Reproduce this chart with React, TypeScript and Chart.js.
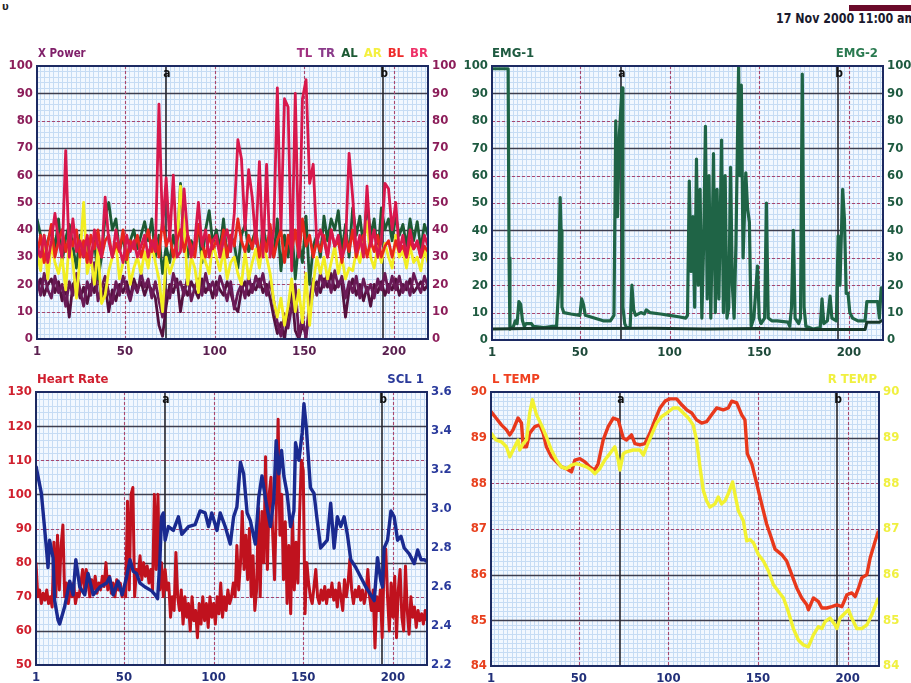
import React, { useEffect, useRef } from "react";
import { Chart, registerables } from "chart.js";
Chart.register(...registerables);

const FONT = '"Liberation Sans Narrow", "DejaVu Sans Condensed", "Arial Narrow", sans-serif';

// ---------- shared ----------
const X_TICKS = [1, 50, 100, 150, 200];
const MARK_X = [73, 194];
const MARK_LABELS = ["a", "b"];

// ---------- X Power (sampled every 2 units: x = 1,3,5,...,219) ----------
const XP_X = Array.from({ length: 110 }, (_, i) => 1 + 2 * i);
const XP_TL = [
  18, 22, 16, 20, 22, 17, 21, 14, 19, 8,
  20, 22, 15, 19, 13, 20, 17, 25, 15, 20,
  10, 18, 14, 20, 17, 21, 15, 22, 18, 21,
  16, 20, 18, 15, 5, 1, 12, 20, 17, 22,
  10, 19, 16, 21, 18, 15, 22, 17, 20, 15,
  21, 18, 16, 21, 17, 12, 10, 18, 21, 16,
  20, 18, 22, 17, 20, 15, 8, 2, 6, 0,
  10, 18, 3, 0, 5, 2, 10, 18, 21, 17,
  22, 19, 24, 18, 21, 20, 8, 18, 22, 16,
  20, 14, 19, 12, 20, 17, 21, 16, 20, 18,
  22, 16, 20, 18, 22, 17, 19, 21, 18, 20,
];
const XP_TR = [
  22, 16, 24, 18, 15, 23, 17, 20, 12, 21,
  16, 24, 18, 12, 21, 16, 28, 14, 19, 23,
  17, 13, 21, 16, 23, 18, 14, 20, 17, 24,
  19, 22, 15, 21, 14, 8, 18, 15, 24, 19,
  21, 16, 23, 14, 19, 22, 16, 24, 18, 21,
  16, 23, 19, 14, 21, 11, 17, 20, 15, 23,
  17, 23, 19, 24, 16, 21, 14, 6, 1, 9,
  4, 12, 20, 1, 8, 0, 14, 22, 16, 24,
  19, 24, 17, 25, 19, 23, 15, 21, 17, 23,
  15, 22, 17, 20, 15, 22, 18, 24, 17, 23,
  18, 23, 17, 21, 16, 24, 20, 17, 23, 19,
];
const XP_AL = [
  44, 38, 30, 36, 40, 33, 44, 28, 37, 42,
  34, 26, 38, 30, 35, 28, 36, 22, 30, 45,
  50, 40, 44, 32, 38, 28, 36, 40, 33, 38,
  43, 36, 44, 30, 38, 24, 34, 28, 38, 32,
  57, 40, 30, 36, 33, 42, 28, 40, 47, 35,
  40, 33, 44, 30, 38, 35, 26, 38, 42, 32,
  36, 40, 28, 42, 34, 38, 30, 44, 25, 38,
  30, 42, 22, 36, 28, 45, 20, 34, 38, 30,
  45, 36, 44, 40, 47, 32, 42, 30, 48, 38,
  45, 34, 50, 38, 44, 30, 48, 40, 44, 36,
  45, 38, 42, 34, 44, 36, 43, 33, 42, 38,
];
const XP_AR = [
  32, 25, 38, 22, 35, 28, 24, 30, 18, 36,
  28, 15, 30, 50, 24, 30, 20, 33, 13, 16,
  25, 30, 35, 22, 28, 32, 20, 26, 30, 24,
  32, 26, 35, 28, 22, 10, 30, 24, 28, 33,
  56, 42, 20, 30, 26, 17, 32, 28, 24, 35,
  30, 25, 33, 22, 28, 30, 24, 20, 32, 22,
  28, 33, 26, 35, 30, 24, 14, 8, 15, 5,
  12, 22, 10, 18, 6, 24, 5, 20, 30, 24,
  30, 22, 28, 34, 24, 30, 22, 26, 25, 32,
  28, 35, 43, 30, 26, 34, 28, 35, 30, 26,
  38, 30, 32, 26, 34, 28, 30, 25, 33, 28,
];
const XP_BL = [
  30, 38, 28, 35, 42, 30, 36, 40, 32, 38,
  34, 40, 30, 36, 28, 38, 33, 40, 30, 36,
  38, 30, 35, 32, 40, 29, 36, 33, 38, 30,
  35, 40, 32, 38, 30, 44, 34, 38, 30, 36,
  40, 32, 38, 34, 30, 42, 35, 30, 38, 33,
  36, 32, 40, 30, 38, 34, 44, 36, 32, 38,
  33, 40, 30, 38, 32, 42, 30, 36, 40, 28,
  38, 32, 40, 30, 44, 34, 38, 30, 36, 32,
  38, 30, 40, 34, 36, 28, 38, 32, 40, 30,
  35, 38, 30, 36, 32, 38, 30, 34, 36, 30,
  36, 32, 34, 30, 36, 33, 35, 30, 34, 32,
];
const XP_BR = [
  34, 30, 38, 28, 36, 46, 36, 30, 69, 30,
  44, 32, 36, 30, 38, 28, 40, 34, 30, 52,
  36, 30, 40, 33, 28, 38, 32, 36, 30, 34,
  38, 30, 36, 32, 86, 40, 59, 36, 60, 30,
  32, 55, 38, 30, 36, 50, 34, 40, 30, 36,
  38, 30, 36, 40, 32, 46, 73, 66, 40, 62,
  52, 35, 65, 30, 64, 30, 40, 92, 40, 88,
  85, 25, 90, 30, 88, 95, 57, 64, 35, 40,
  36, 30, 40, 34, 38, 30, 34, 68, 52, 32,
  38, 30, 56, 34, 40, 30, 36, 57, 55, 40,
  50, 32, 38, 30, 40, 33, 36, 30, 38, 34,
];

// ---------- EMG (polyline vertices) ----------
const EMG1_X = [1, 10, 10.5, 11, 13, 14, 15, 16, 17, 18, 19, 20, 23, 24, 30, 35, 37, 38, 39, 39.5, 40, 41, 45, 50, 51, 52, 53, 58, 63, 67, 69, 70, 71, 72, 73.5, 74, 75, 76, 78, 79, 80, 81, 84, 86, 87, 89, 95, 100, 105, 109, 110, 111, 112, 113, 114, 115, 116, 117, 118, 119, 120, 121, 122, 123, 124.5, 125.5, 126.5, 127.5, 129, 130, 131, 132, 133, 134, 135, 136, 137, 138.5, 139.2, 140, 141, 142.5, 143.5, 144.5, 145.5, 147, 149, 150, 151, 153, 154, 155, 157, 160, 166, 167, 168, 169, 170, 172, 173, 174, 175, 176, 180, 184, 185, 186, 188, 189.5, 190.5, 193, 194, 195, 196.5, 197.5, 198.5, 199.5, 200.5, 202, 205, 209, 210, 216, 217, 218, 219];
const EMG1_Y = [99, 99, 30, 4, 5, 7, 6, 14, 13, 7, 5, 6, 6, 5, 4.5, 5, 5, 17, 52, 40, 12, 10, 9.5, 9, 15, 13, 9, 8, 7, 7, 9, 80, 45, 75, 92, 12, 6, 4.5, 4.5, 20, 11, 9, 10, 9.5, 11, 10, 9.5, 9, 8.5, 8, 9, 58, 25, 45, 12, 66, 20, 55, 8, 35, 78, 15, 60, 8, 68, 10, 55, 15, 73, 10, 60, 8, 12, 63, 20, 8, 35, 100, 60, 93, 30, 61, 48, 43, 5, 8, 27, 8, 6, 8, 50, 8, 7, 7, 6.5, 5, 12, 40, 8, 6, 8, 97, 12, 5, 4, 4.5, 15, 6, 7, 16, 8, 7, 38, 20, 55, 44, 17, 17, 10, 8, 7, 7, 14, 14, 8, 19, 19];
const EMG2_X = [1, 30, 60, 90, 120, 150, 180, 209, 210, 217, 218, 219];
const EMG2_Y = [4, 4.3, 4.2, 4.3, 4, 4.2, 3.8, 3.8, 6.5, 6.5, 7, 7];

// ---------- Heart rate (x = 1..219) ----------
const HR_X = Array.from({ length: 219 }, (_, i) => i + 1);
const HR_Y = [
  80, 70, 72, 68, 71, 69, 72, 68, 70, 67, 86, 70, 88, 72, 85, 91, 70, 74, 68, 72,
  70, 74, 68, 71, 70, 74, 78, 72, 78, 74, 70, 75, 72, 76, 71, 74, 72, 76, 73, 80,
  72, 76, 71, 74, 70, 75, 72, 74, 70, 72, 70, 98, 72, 100, 102, 70, 78, 76, 82, 75,
  80, 76, 79, 74, 78, 72, 100, 78, 100, 72, 80, 70, 78, 72, 74, 64, 70, 66, 83, 70,
  66, 72, 62, 70, 64, 68, 60, 70, 63, 66, 58, 68, 62, 70, 63, 68, 61, 70, 64, 68,
  62, 70, 65, 74, 64, 70, 66, 72, 68, 70, 74, 70, 85, 72, 80, 95, 78, 88, 75, 90,
  70, 82, 66, 72, 96, 70, 95, 80, 111, 78, 100, 105, 88, 75, 96, 122, 88, 100, 75, 92,
  68, 85, 65, 93, 72, 86, 74, 95, 110, 107, 65, 80, 74, 70, 68, 73, 78, 70, 68, 72,
  69, 73, 68, 72, 70, 74, 69, 72, 67, 74, 70, 66, 75, 70, 74, 81, 72, 68, 72, 70,
  73, 69, 72, 68, 71, 78, 70, 66, 72, 55, 70, 66, 72, 58, 78, 84, 70, 60, 74, 64,
  76, 58, 72, 78, 64, 60, 79, 66, 59, 70, 64, 67, 61, 66, 63, 65, 62, 66, 63,
];

// ---------- SCL 1 (polyline vertices) ----------
const SCL_X = [1, 4, 6.8, 7.7, 8.6, 10.5, 11.4, 13.3, 14.2, 17, 19.8, 21.7, 23.2, 25.4, 28.2, 30, 32.9, 36.6, 40.4, 42, 44, 46.8, 49, 51.5, 53.4, 55.2, 57, 59, 61.8, 65.5, 67.4, 68.8, 70.1, 71, 72, 73, 74.8, 77.6, 80.4, 82.3, 86, 89.7, 92.5, 95.3, 97.2, 99, 101.9, 103.7, 106.5, 109.3, 111.2, 113, 115, 116.8, 118.7, 120.5, 123.3, 125.2, 127, 129, 131.7, 133.6, 134.9, 136.4, 137.9, 139.2, 141, 142.9, 144.8, 145.7, 147.6, 149.4, 150.4, 151.7, 154, 156, 157.8, 159.7, 161.5, 163.4, 165.3, 167.2, 169, 170.9, 172.8, 174.6, 176.5, 179.3, 182.1, 184.9, 187.7, 189.6, 191.4, 193.3, 194.2, 195.1, 197, 198.9, 200.7, 202.6, 204.5, 206.3, 209.1, 211.9, 213.8, 215.7, 217.5, 219];
const SCL_Y = [3.22, 3.08, 2.8, 2.7, 2.84, 2.75, 2.53, 2.43, 2.41, 2.5, 2.63, 2.56, 2.74, 2.6, 2.56, 2.67, 2.56, 2.6, 2.62, 2.65, 2.56, 2.63, 2.56, 2.65, 2.74, 2.68, 2.67, 2.62, 2.6, 2.58, 2.56, 2.54, 2.74, 2.96, 2.98, 2.84, 2.91, 2.89, 2.96, 2.87, 2.91, 2.92, 2.99, 2.98, 2.91, 2.98, 2.89, 2.98, 2.91, 2.82, 2.96, 3.01, 3.24, 3.18, 2.98, 2.94, 2.82, 3.06, 3.17, 3.05, 2.91, 3.05, 3.35, 3.18, 3.3, 3.17, 3.08, 2.91, 2.99, 3.34, 3.25, 3.39, 3.54, 3.42, 3.11, 3.08, 2.94, 2.8, 2.82, 2.84, 3.03, 2.8, 2.96, 2.91, 2.96, 2.87, 2.74, 2.7, 2.65, 2.6, 2.56, 2.53, 2.75, 2.63, 2.6, 2.8, 2.84, 2.99, 2.96, 2.84, 2.86, 2.8, 2.77, 2.72, 2.79, 2.74, 2.74, 2.73];

// ---------- Temperatures (polyline vertices) ----------
const LT_X = [1, 3.8, 6.8, 9.6, 11.5, 13.3, 16.1, 18, 19, 20.8, 22.6, 25.4, 28.2, 30.1, 31.9, 34.7, 37.5, 40.3, 43.1, 45.9, 47.8, 50.6, 53.4, 56.1, 58.9, 60.8, 63.6, 66.4, 69.2, 72, 74.8, 76.6, 79.4, 81.3, 84.1, 86.9, 89.7, 92.5, 95.3, 98.1, 100.8, 104.6, 107.4, 110.2, 113, 115.7, 118.5, 121.3, 124.1, 126.9, 130.6, 133.4, 135.3, 138.1, 140.9, 142.7, 144, 146.5, 149.3, 152, 154.8, 156.7, 159.5, 163.2, 166, 168.8, 171.6, 174.4, 177.2, 178.1, 180.9, 183.7, 185.6, 188.4, 191.2, 194, 196.8, 199.6, 202.3, 204.2, 206.1, 207.9, 210.7, 212.6, 215.4, 217.2];
const LT_Y = [89.57, 89.43, 89.28, 89.17, 89.06, 89.17, 89.43, 89.32, 88.8, 88.8, 89.1, 89.24, 89.28, 89.1, 88.8, 88.58, 88.47, 88.36, 88.32, 88.25, 88.51, 88.54, 88.47, 88.36, 88.29, 88.43, 88.95, 89.24, 89.43, 89.39, 88.99, 88.95, 89.06, 88.87, 88.84, 88.87, 89.1, 89.39, 89.65, 89.8, 89.85, 89.85, 89.72, 89.61, 89.54, 89.39, 89.32, 89.35, 89.5, 89.65, 89.61, 89.65, 89.8, 89.76, 89.5, 89.39, 88.65, 88.43, 87.99, 87.55, 87.11, 86.89, 86.56, 86.44, 86.3, 86.0, 85.71, 85.49, 85.34, 85.23, 85.49, 85.41, 85.27, 85.27, 85.3, 85.34, 85.3, 85.56, 85.6, 85.52, 85.71, 85.93, 86.0, 86.37, 86.74, 86.96];
const RT_X = [1, 3.8, 6.8, 9.6, 11.5, 13.3, 16.1, 17, 19, 20.8, 22.6, 24.1, 26.4, 29.1, 31.9, 34.7, 37.5, 40.3, 43.1, 45.9, 48.7, 51.5, 54.3, 57.1, 58.9, 61.7, 64.5, 67.3, 70.1, 72, 72.9, 74.8, 76.6, 80.3, 84.1, 86, 87.8, 90.6, 93.4, 96.2, 99, 102.7, 105.5, 108.3, 111.1, 113.8, 115.7, 117.6, 119.5, 121.3, 123.2, 126, 127.8, 129.7, 131.6, 133.4, 135.8, 137.1, 139, 141.8, 143.7, 145.5, 147.4, 150.2, 153, 155.8, 158.6, 161.4, 164.2, 166.9, 169.7, 172.5, 175.3, 178.1, 180.9, 183.7, 185.6, 187.4, 190.2, 193, 194, 195.8, 198.6, 200.5, 202.3, 205.1, 207.9, 210.7, 213.5, 216.3, 217.2];
const RT_Y = [89.1, 88.95, 88.91, 88.8, 88.58, 88.73, 88.95, 88.73, 88.87, 88.95, 89.54, 89.83, 89.5, 89.28, 89.02, 88.73, 88.51, 88.36, 88.32, 88.4, 88.43, 88.4, 88.36, 88.29, 88.21, 88.32, 88.51, 88.65, 88.8, 88.51, 88.29, 88.65, 88.69, 88.73, 88.73, 88.62, 88.8, 89.06, 89.32, 89.46, 89.54, 89.65, 89.65, 89.54, 89.43, 89.28, 88.95, 88.36, 87.84, 87.62, 87.48, 87.55, 87.7, 87.55, 87.62, 87.77, 88.03, 87.77, 87.4, 87.18, 86.74, 86.77, 86.7, 86.44, 86.3, 86.08, 85.78, 85.63, 85.49, 85.19, 84.82, 84.57, 84.46, 84.42, 84.68, 84.86, 84.82, 84.97, 85.05, 84.9, 84.82, 85.05, 85.16, 85.23, 85.05, 84.82, 84.82, 84.9, 85.12, 85.41, 85.49];

// ---------- axis ticks ----------
const XP_TICKS = [0, 10, 20, 30, 40, 50, 60, 70, 80, 90, 100];
const HR_TICKS = [50, 60, 70, 80, 90, 100, 110, 120, 130];
const SCL_TICKS = [2.2, 2.4, 2.6, 2.8, 3.0, 3.2, 3.4, 3.6];
const TEMP_TICKS = [84, 85, 86, 87, 88, 89, 90];

const pts = (xs: number[], ys: number[]) => xs.map((x, i) => ({ x, y: ys[i] }));

const LEFT_W = 37;
const RIGHT_W = 32;
const TOP_PAD = 20;
const X_H = 22;

function decor(p: any) {
  return {
    id: "decor",
    beforeDatasetsDraw(chart: any) {
      const { ctx, chartArea: a, scales } = chart;
      const xs = scales.x;
      const yl = scales.y;
      ctx.save();
      ctx.fillStyle = "#f2f8ff";
      ctx.fillRect(a.left, a.top, a.right - a.left, a.bottom - a.top);
      ctx.strokeStyle = "#c6dcf4";
      ctx.lineWidth = 1;
      ctx.beginPath();
      for (let v = 2.5; v < p.xMax; v += 2.5) {
        const x = Math.round(xs.getPixelForValue(v)) + 0.5;
        ctx.moveTo(x, a.top);
        ctx.lineTo(x, a.bottom);
      }
      for (let v = p.yMin + p.yMinor; v < p.yMax - 1e-9; v += p.yMinor) {
        const y = Math.round(yl.getPixelForValue(v)) + 0.5;
        ctx.moveTo(a.left, y);
        ctx.lineTo(a.right, y);
      }
      ctx.stroke();
      for (const h of p.hLines) {
        const y = Math.round(yl.getPixelForValue(h[0])) + 0.5;
        const dark = h[1] === 1;
        ctx.strokeStyle = dark ? "#3e3e4e" : "#a8466e";
        ctx.setLineDash(dark ? [] : [3, 2]);
        ctx.lineWidth = dark ? 1.3 : 1.1;
        ctx.beginPath();
        ctx.moveTo(a.left, y);
        ctx.lineTo(a.right, y);
        ctx.stroke();
      }
      ctx.setLineDash([3, 2]);
      ctx.strokeStyle = "#a8466e";
      ctx.lineWidth = 1.1;
      for (const v of [50, 100, 150, 200]) {
        const x = Math.round(xs.getPixelForValue(v)) + 0.5;
        ctx.beginPath();
        ctx.moveTo(x, a.top);
        ctx.lineTo(x, a.bottom);
        ctx.stroke();
      }
      ctx.setLineDash([]);
      ctx.strokeStyle = "#26262e";
      ctx.lineWidth = 1.6;
      MARK_X.forEach((m, i) => {
        const x = Math.round(xs.getPixelForValue(m));
        ctx.beginPath();
        ctx.moveTo(x, a.top);
        ctx.lineTo(x, a.bottom);
        ctx.stroke();
        ctx.fillStyle = "#111";
        ctx.font = `bold 12px ${FONT}`;
        ctx.textAlign = "center";
        ctx.textBaseline = "middle";
        ctx.fillText(MARK_LABELS[i], x + 1, a.top + 8);
      });
      ctx.restore();
    },
    afterDatasetsDraw(chart: any) {
      const { ctx, chartArea: a } = chart;
      ctx.save();
      ctx.strokeStyle = "#1c2a62";
      ctx.lineWidth = 2;
      ctx.strokeRect(a.left, a.top, a.right - a.left, a.bottom - a.top);
      ctx.restore();
    },
  };
}

function buildConfig(p: any) {
  const tickFont = { family: FONT, size: 13, weight: "bold" as const };
  const axisCommon = {
    grid: { display: false, drawTicks: false },
    border: { display: false },
  };
  return {
    type: "line",
    data: {
      datasets: p.datasets.map((d: any) => ({
        label: d.label,
        data: d.data,
        yAxisID: d.axis,
        borderColor: d.color,
        backgroundColor: d.color,
        borderWidth: d.width,
        pointRadius: 0,
        tension: 0,
        fill: false,
        borderJoinStyle: "round",
      })),
    },
    options: {
      responsive: false,
      animation: false,
      events: [],
      layout: { padding: { top: TOP_PAD, left: 0, right: 0, bottom: 0 } },
      plugins: { legend: { display: false }, tooltip: { enabled: false } },
      scales: {
        x: {
          type: "linear",
          min: 1,
          max: p.xMax,
          afterBuildTicks: (s: any) => {
            s.ticks = X_TICKS.map((v) => ({ value: v }));
          },
          afterFit: (s: any) => {
            s.height = X_H;
          },
          ...axisCommon,
          ticks: { color: p.xColor, font: tickFont, padding: 5, maxRotation: 0, autoSkip: false, callback: (v: any) => String(v) },
        },
        y: {
          position: "left",
          min: p.yMin,
          max: p.yMax,
          afterBuildTicks: (s: any) => {
            s.ticks = p.lTicks.map((v: number) => ({ value: v }));
          },
          afterFit: (s: any) => {
            s.width = LEFT_W;
          },
          ...axisCommon,
          ticks: { color: p.lColor, font: tickFont, padding: 4, autoSkip: false, callback: (v: any) => String(v) },
        },
        y2: {
          position: "right",
          min: p.rMin,
          max: p.rMax,
          afterBuildTicks: (s: any) => {
            s.ticks = p.rTicks.map((v: number) => ({ value: v }));
          },
          afterFit: (s: any) => {
            s.width = RIGHT_W;
          },
          ...axisCommon,
          ticks: { color: p.rColor, font: tickFont, padding: 4, autoSkip: false, callback: p.rFmt || ((v: any) => String(v)) },
        },
      },
    },
    plugins: [decor(p)],
  };
}

function Panel({ p }: { p: any }) {
  const ref = useRef<HTMLCanvasElement>(null);
  const left = p.plotL - LEFT_W;
  const top = p.plotT - TOP_PAD;
  const w = p.plotR + RIGHT_W - left;
  const h = p.plotB + X_H - top;
  useEffect(() => {
    const chart = new Chart(ref.current as HTMLCanvasElement, buildConfig(p) as any);
    return () => chart.destroy();
  }, []);
  return <canvas ref={ref} width={w} height={h} style={{ position: "absolute", left, top, width: w, height: h }} />;
}

const PANELS = [
  {
    plotL: 37, plotT: 66, plotR: 428, plotB: 339, xMax: 219,
    yMin: 0, yMax: 100, rMin: 0, rMax: 100, lTicks: XP_TICKS, rTicks: XP_TICKS, yMinor: 2,
    lColor: "#8c1e5a", rColor: "#8c1e5a", xColor: "#5a2050",
    hLines: [[90, 1], [80, 0], [70, 1], [60, 1], [50, 0], [40, 1], [30, 0], [20, 0], [10, 0]],
    datasets: [
      { label: "BR", data: pts(XP_X, XP_BR), axis: "y", color: "#d8184c", width: 2.8 },
      { label: "BL", data: pts(XP_X, XP_BL), axis: "y", color: "#e8261c", width: 2.8 },
      { label: "AR", data: pts(XP_X, XP_AR), axis: "y", color: "#f2ee22", width: 2.8 },
      { label: "AL", data: pts(XP_X, XP_AL), axis: "y", color: "#1d5a34", width: 2.8 },
      { label: "TR", data: pts(XP_X, XP_TR), axis: "y", color: "#6a1a56", width: 2.8 },
      { label: "TL", data: pts(XP_X, XP_TL), axis: "y", color: "#54103e", width: 2.8 },
    ],
  },
  {
    plotL: 492, plotT: 66, plotR: 883, plotB: 340, xMax: 219,
    yMin: 0, yMax: 100, rMin: 0, rMax: 100, lTicks: XP_TICKS, rTicks: XP_TICKS, yMinor: 2,
    lColor: "#1e5a40", rColor: "#1e5a40", xColor: "#1e4a3a",
    hLines: [[90, 1], [80, 0], [70, 1], [60, 0], [50, 0], [40, 1], [30, 0], [20, 0], [10, 0]],
    datasets: [
      { label: "EMG-2", data: pts(EMG2_X, EMG2_Y), axis: "y", color: "#17382a", width: 3 },
      { label: "EMG-1", data: pts(EMG1_X, EMG1_Y), axis: "y", color: "#1f6446", width: 3.2 },
    ],
  },
  {
    plotL: 36, plotT: 392, plotR: 427, plotB: 665, xMax: 219,
    yMin: 50, yMax: 130, rMin: 2.2, rMax: 3.6, lTicks: HR_TICKS, rTicks: SCL_TICKS, yMinor: 2,
    lColor: "#d0202e", rColor: "#2a3a9c", xColor: "#22307a", rFmt: (v: any) => Number(v).toFixed(1),
    hLines: [[120, 1], [110, 0], [100, 1], [90, 0], [80, 1], [70, 0], [60, 1]],
    datasets: [
      { label: "SCL 1", data: pts(SCL_X, SCL_Y), axis: "y2", color: "#1a2a90", width: 3.4 },
      { label: "Heart Rate", data: pts(HR_X, HR_Y), axis: "y", color: "#c0121e", width: 3 },
    ],
  },
  {
    plotL: 491, plotT: 392, plotR: 879, plotB: 666, xMax: 217.5,
    yMin: 84, yMax: 90, rMin: 84, rMax: 90, lTicks: TEMP_TICKS, rTicks: TEMP_TICKS, yMinor: 0.1,
    lColor: "#e8401e", rColor: "#f0f040", xColor: "#22307a",
    hLines: [[89, 1], [88, 0], [87, 0], [86, 1], [85, 1]],
    datasets: [
      { label: "R TEMP", data: pts(RT_X, RT_Y), axis: "y2", color: "#f2f232", width: 3.4 },
      { label: "L TEMP", data: pts(LT_X, LT_Y), axis: "y", color: "#e8381c", width: 3.4 },
    ],
  },
];

function Txt({ x, r, cy, color, children, size = 13, sx }: any) {
  const style: any = {
    position: "absolute",
    top: cy - 8,
    font: `bold ${size}px ${FONT}`,
    lineHeight: "16px",
    color,
    whiteSpace: "pre",
  };
  if (r !== undefined) style.right = 911 - r;
  else style.left = x;
  if (sx) {
    style.transform = `scaleX(${sx})`;
    style.transformOrigin = "left center";
  }
  return <div style={style}>{children}</div>;
}

const LEGEND = [
  ["TL", "#a0307f"],
  ["TR", "#8a3a8a"],
  ["AL", "#1d5a34"],
  ["AR", "#f4f040"],
  ["BL", "#ee2a2a"],
  ["BR", "#ee3068"],
];

export default function App() {
  return (
    <div style={{ position: "fixed", left: 0, top: 0, width: 911, height: 683, background: "#fff", overflow: "hidden" }}>
      <div style={{ position: "absolute", left: 2, top: 0, font: `bold 11px ${FONT}`, color: "#222" }}>υ</div>
      <div style={{ position: "absolute", left: 849, top: 5, width: 62, height: 6, background: "#6a0a2a" }} />
      <Txt x={776} cy={18} color="#1a1a2e" size={14} sx={0.88}>17 Nov 2000 11:00 am</Txt>
      {PANELS.map((p, i) => (
        <Panel key={i} p={p} />
      ))}
      <Txt x={38} cy={53} color="#80206a" sx={0.88}>X Power</Txt>
      <div style={{ position: "absolute", right: 911 - 428, top: 45, font: `bold 13px ${FONT}`, lineHeight: "16px", whiteSpace: "pre" }}>
        {LEGEND.map(([t, c], i) => (
          <span key={t} style={{ color: c, marginLeft: i ? 6 : 0 }}>{t}</span>
        ))}
      </div>
      <Txt x={492} cy={53} color="#1e5a40">EMG-1</Txt>
      <Txt r={878} cy={53} color="#2a7a50">EMG-2</Txt>
      <Txt x={37} cy={379} color="#d01e2e">Heart Rate</Txt>
      <Txt r={424} cy={379} color="#2a3a9a">SCL 1</Txt>
      <Txt x={492} cy={379} color="#f04020">L TEMP</Txt>
      <Txt r={877} cy={379} color="#f0f040">R TEMP</Txt>
    </div>
  );
}
